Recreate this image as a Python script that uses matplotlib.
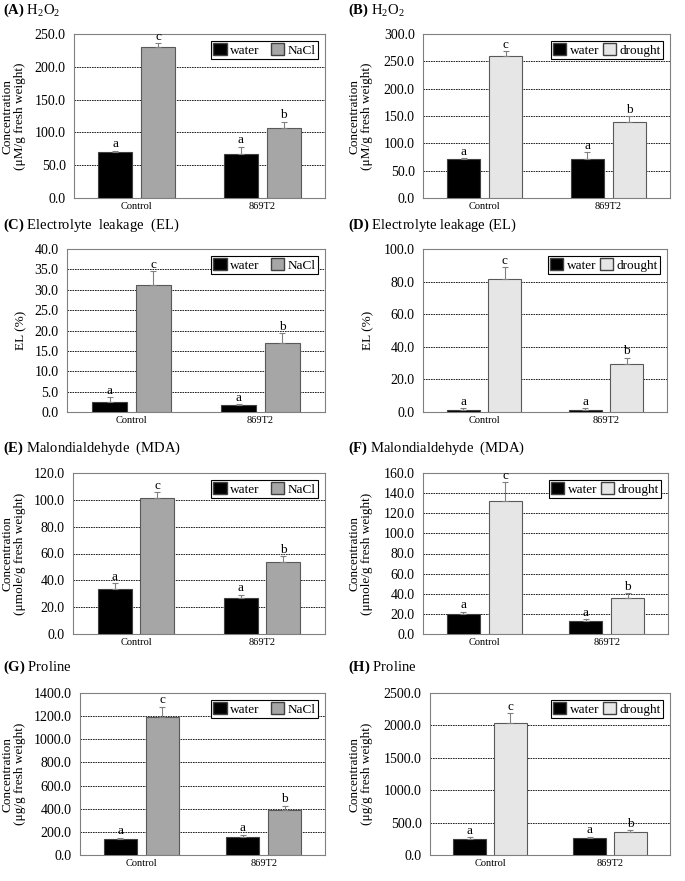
import numpy as np
import matplotlib
matplotlib.use("Agg")
import matplotlib.pyplot as plt
from matplotlib.patches import Patch

plt.rcParams['font.family'] = ['Liberation Serif', 'DejaVu Serif']
plt.rcParams['mathtext.fontset'] = 'custom'
plt.rcParams['mathtext.rm'] = 'Liberation Serif'
plt.rcParams['mathtext.bf'] = 'Liberation Serif:bold'

genotypes = ["Control", "869T2"]

# panel data: water, stress values and upward error bars
titles = [r"$\mathbf{(A)}$ H$_2$O$_2$", r"$\mathbf{(B)}$ H$_2$O$_2$",
          r"$\mathbf{(C)}$ Electrolyte  leakage  (EL)", r"$\mathbf{(D)}$ Electrolyte leakage (EL)",
          r"$\mathbf{(E)}$ Malondialdehyde  (MDA)", r"$\mathbf{(F)}$ Malondialdehyde  (MDA)",
          r"$\mathbf{(G)}$ Proline", r"$\mathbf{(H)}$ Proline"]
ylabels = ["Concentration\n(\u03bcM/g fresh weight)", "Concentration\n(\u03bcM/g fresh weight)",
           "EL (%)", "EL (%)",
           "Concentration\n(\u03bcmole/g fresh weight)", "Concentration\n(\u03bcmole/g fresh weight)",
           "Concentration\n(\u03bcg/g fresh weight)", "Concentration\n(\u03bcg/g fresh weight)"]
stress_names = ["NaCl", "drought", "NaCl", "drought", "NaCl", "drought", "NaCl", "drought"]

water_vals = [[70.3, 67.2], [70.7, 72.0], [2.46, 1.64], [1.4, 1.4],
              [33.8, 26.6], [19.9, 12.6], [135.7, 153.0], [242.0, 268.0]]
water_err = [[1.5, 11.0], [2.0, 12.0], [1.1, 0.3], [0.8, 0.8],
             [4.2, 2.5], [2.0, 2.3], [15.0, 23.0], [31.0, 10.0]]
stress_vals = [[229.6, 107.4], [260.0, 138.3], [31.1, 17.0], [81.6, 29.5],
               [101.1, 53.7], [132.2, 36.1], [1189.0, 387.0], [2041.0, 350.0]]
stress_err = [[6.0, 9.0], [8.0, 11.0], [3.5, 2.3], [7.1, 3.9],
              [4.7, 4.2], [18.5, 4.3], [92.0, 40.0], [150.0, 31.0]]
water_letters = [["a", "a"]] * 8
stress_letters = [["c", "b"]] * 8
ymax = [250, 300, 40, 100, 120, 160, 1400, 2500]
ystep = [50, 50, 5, 20, 20, 20, 200, 500]

# axes boxes in pixels: x0, x1, ytop, ybottom
boxes = [(74, 325, 34, 198), (423, 670, 34, 198),
         (67, 325, 249, 412), (423, 667, 249, 412),
         (73, 325, 473, 634), (423, 668, 473, 634),
         (80, 325, 693, 855), (430, 670, 693, 855)]
title_x = [3, 348]
title_y = [10, 10, 225, 225, 448, 448, 667, 667]
ylab_x = [14, 361, 21, 368, 14, 361, 14, 361]

W, H = 685, 881
fig = plt.figure(figsize=(W / 100, H / 100), dpi=100)

x = np.arange(len(genotypes))
bw = 0.27
off = 0.17

for i in range(8):
    x0, x1, yt, yb = boxes[i]
    ax = fig.add_axes([x0 / W, 1 - yb / H, (x1 - x0) / W, (yb - yt) / H])
    scol = "#a6a6a6" if stress_names[i] == "NaCl" else "#e6e6e6"
    ax.bar(x - off, water_vals[i], bw, color="black", edgecolor="#404040", linewidth=0.8, zorder=3)
    ax.bar(x + off, stress_vals[i], bw, color=scol, edgecolor="#595959", linewidth=0.8, zorder=3)
    ax.errorbar(x - off, water_vals[i], yerr=[np.zeros(2), water_err[i]], fmt="none",
                ecolor="#808080", elinewidth=0.8, capsize=2, capthick=0.8, zorder=4)
    ax.errorbar(x + off, stress_vals[i], yerr=[np.zeros(2), stress_err[i]], fmt="none",
                ecolor="#808080", elinewidth=0.8, capsize=2, capthick=0.8, zorder=4)
    pad = ymax[i] * 0.003
    for j in range(2):
        ax.text(x[j] - off, water_vals[i][j] + water_err[i][j] + pad, water_letters[i][j],
                ha="center", va="bottom", fontsize=9.5, zorder=5)
        ax.text(x[j] + off, stress_vals[i][j] + stress_err[i][j] + pad, stress_letters[i][j],
                ha="center", va="bottom", fontsize=9.5, zorder=5)
    ax.set_xlim(-0.5, 1.5)
    ax.set_ylim(0, ymax[i])
    ticks = np.arange(0, ymax[i] + ystep[i] / 2, ystep[i])
    ax.set_yticks(ticks)
    ax.set_yticklabels(["%.1f" % t for t in ticks], fontsize=10)
    ax.set_xticks(x)
    ax.set_xticklabels(genotypes, fontsize=7.5)
    ax.tick_params(axis="x", length=0, pad=3)
    ax.tick_params(axis="y", length=0, pad=6)
    ax.yaxis.grid(True, linestyle=(0, (2, 1)), color="black", linewidth=0.6)
    ax.set_axisbelow(True)
    for s in ax.spines.values():
        s.set_color("#808080")
        s.set_linewidth(0.8)
    handles = [Patch(facecolor="black", edgecolor="#404040"),
               Patch(facecolor=scol, edgecolor="#404040")]
    leg = ax.legend(handles, ["water", stress_names[i]], loc="upper right", ncol=2,
                    fontsize=9.5, frameon=True, fancybox=False, edgecolor="black",
                    framealpha=1, borderpad=0.15, handlelength=1.0, handleheight=1.0,
                    handletextpad=0.25, columnspacing=0.9 if stress_names[i] == "NaCl" else 0.3,
                    borderaxespad=0.55)
    leg.get_frame().set_linewidth(0.8)
    fig.text(title_x[i % 2] / W, 1 - title_y[i] / H, titles[i], fontsize=10.5,
             ha="left", va="center")
    fig.text(ylab_x[i] / W, 1 - (yt + yb) / 2 / H, ylabels[i], rotation=90,
             fontsize=9.5, ha="center", va="center", linespacing=1.0)

fig.savefig("out.png", dpi=100)
